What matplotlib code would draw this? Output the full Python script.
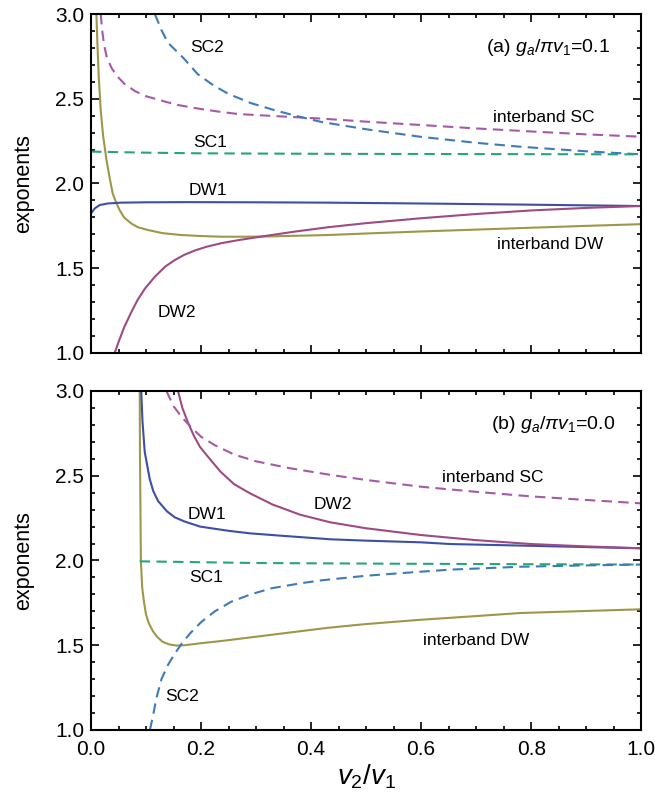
import matplotlib
matplotlib.use("Agg")
import matplotlib.pyplot as plt
from matplotlib.ticker import MultipleLocator

plt.rcParams['font.family'] = ['Liberation Sans', 'DejaVu Sans']
plt.rcParams['mathtext.fontset'] = 'custom'
plt.rcParams['mathtext.it'] = 'Liberation Sans:italic'
plt.rcParams['mathtext.rm'] = 'Liberation Sans'

# ---------------- panel (a) data: g_a/pi v1 = 0.1 ----------------
a_idw_x = [0.0097, 0.0115, 0.014, 0.0176, 0.022, 0.028, 0.034, 0.0394, 0.046, 0.052, 0.06, 0.073, 0.085, 0.104, 0.13, 0.164, 0.2, 0.237, 0.28, 0.328, 0.431, 0.5, 0.6, 0.7, 0.8, 0.9, 1.0]
a_idw_y = [3.0, 2.83, 2.63, 2.43, 2.28, 2.14, 2.03, 1.94, 1.885, 1.843, 1.80, 1.764, 1.742, 1.725, 1.707, 1.696, 1.69, 1.686, 1.686, 1.688, 1.696, 1.705, 1.717, 1.728, 1.739, 1.75, 1.76]

a_dw1_x = [0.0, 0.0067, 0.0158, 0.03, 0.055, 0.1, 0.176, 0.3, 0.431, 0.6, 0.8, 1.0]
a_dw1_y = [1.824, 1.853, 1.873, 1.882, 1.887, 1.889, 1.89, 1.889, 1.887, 1.882, 1.875, 1.867]

a_dw2_x = [0.043, 0.05, 0.06, 0.073, 0.085, 0.098, 0.116, 0.135, 0.152, 0.17, 0.189, 0.21, 0.237, 0.27, 0.316, 0.37, 0.431, 0.5, 0.6, 0.7, 0.8, 0.9, 1.0]
a_dw2_y = [1.0, 1.065, 1.15, 1.24, 1.315, 1.38, 1.45, 1.51, 1.548, 1.58, 1.605, 1.627, 1.648, 1.667, 1.69, 1.716, 1.742, 1.766, 1.795, 1.82, 1.841, 1.856, 1.867]

a_isc_x = [0.0176, 0.02, 0.0235, 0.029, 0.0376, 0.047, 0.06, 0.08, 0.1, 0.138, 0.16, 0.189, 0.23, 0.267, 0.35, 0.419, 0.5, 0.6, 0.7, 0.8, 0.9, 1.0]
a_isc_y = [3.0, 2.91, 2.82, 2.74, 2.68, 2.635, 2.59, 2.545, 2.515, 2.48, 2.462, 2.445, 2.425, 2.41, 2.395, 2.383, 2.365, 2.345, 2.325, 2.307, 2.29, 2.276]

a_sc2_x = [0.116, 0.128, 0.14, 0.168, 0.194, 0.222, 0.249, 0.29, 0.334, 0.375, 0.419, 0.5, 0.598, 0.7, 0.78, 0.9, 1.0]
a_sc2_y = [3.0, 2.905, 2.83, 2.74, 2.645, 2.58, 2.53, 2.475, 2.432, 2.397, 2.363, 2.32, 2.276, 2.24, 2.217, 2.19, 2.172]

a_sc1_x = [0.0, 0.1, 0.2, 0.43, 1.0]
a_sc1_y = [2.188, 2.182, 2.178, 2.175, 2.172]

# ---------------- panel (b) data: g_a/pi v1 = 0.0 ----------------
b_idw_x = [0.0885, 0.089, 0.0898, 0.0906, 0.093, 0.096, 0.1, 0.105, 0.112, 0.12, 0.13, 0.142, 0.155, 0.17, 0.2, 0.237, 0.334, 0.431, 0.5, 0.598, 0.7, 0.78, 0.9, 1.0]
b_idw_y = [3.0, 2.6, 2.3, 1.995, 1.84, 1.76, 1.68, 1.63, 1.585, 1.55, 1.52, 1.505, 1.498, 1.50, 1.512, 1.525, 1.564, 1.603, 1.625, 1.65, 1.672, 1.69, 1.702, 1.712]

b_dw1_x = [0.0912, 0.0935, 0.0976, 0.101, 0.1067, 0.113, 0.122, 0.138, 0.152, 0.17, 0.198, 0.25, 0.289, 0.35, 0.435, 0.5, 0.6, 0.653, 0.78, 0.9, 1.0]
b_dw1_y = [3.0, 2.82, 2.64, 2.58, 2.48, 2.41, 2.35, 2.29, 2.255, 2.23, 2.20, 2.175, 2.16, 2.145, 2.125, 2.117, 2.107, 2.097, 2.088, 2.079, 2.072]

b_dw2_x = [0.158, 0.166, 0.176, 0.187, 0.198, 0.213, 0.235, 0.26, 0.289, 0.33, 0.38, 0.435, 0.5, 0.6, 0.7, 0.8, 0.9, 1.0]
b_dw2_y = [3.0, 2.90, 2.815, 2.735, 2.67, 2.61, 2.525, 2.45, 2.396, 2.33, 2.27, 2.225, 2.19, 2.15, 2.12, 2.097, 2.083, 2.072]

b_isc_x = [0.137, 0.15, 0.165, 0.182, 0.2, 0.225, 0.26, 0.3, 0.36, 0.435, 0.5, 0.6, 0.7, 0.8, 0.9, 1.0]
b_isc_y = [3.0, 2.91, 2.845, 2.785, 2.73, 2.68, 2.625, 2.585, 2.545, 2.505, 2.475, 2.435, 2.405, 2.378, 2.357, 2.337]

b_sc1_x = [0.0885, 0.3, 0.55, 0.8, 1.0]
b_sc1_y = [1.995, 1.985, 1.981, 1.978, 1.976]

b_sc2_x = [0.107, 0.113, 0.119, 0.128, 0.14, 0.152, 0.165, 0.18, 0.2, 0.225, 0.255, 0.29, 0.328, 0.38, 0.419, 0.5, 0.6, 0.653, 0.78, 0.9, 1.0]
b_sc2_y = [1.0, 1.09, 1.19, 1.30, 1.385, 1.45, 1.51, 1.57, 1.636, 1.70, 1.757, 1.80, 1.836, 1.865, 1.883, 1.91, 1.934, 1.946, 1.963, 1.971, 1.976]

c_olive = '#9f9648'
c_blue = '#3b4fa8'
c_purple = '#9e4a84'
c_purple_d = '#a559a8'
c_blue_d = '#3f7ab8'
c_green_d = '#27a57a'

fig = plt.figure(figsize=(6.55, 8.02), dpi=100)
ax1 = fig.add_axes([0.139, 0.5599, 0.840, 0.4226])
ax2 = fig.add_axes([0.139, 0.0898, 0.840, 0.4227])

lw = 1.5
dash = (0, (5, 3))

def style(ax):
    ax.set_xlim(0, 1)
    ax.set_ylim(1.0, 3.0)
    ax.xaxis.set_major_locator(MultipleLocator(0.2))
    ax.xaxis.set_minor_locator(MultipleLocator(0.05))
    ax.yaxis.set_major_locator(MultipleLocator(0.5))
    ax.yaxis.set_minor_locator(MultipleLocator(0.1))
    ax.tick_params(which='both', direction='in', top=True, right=True, labelsize=15, width=1.2)
    ax.tick_params(which='major', length=6)
    ax.tick_params(which='minor', length=3)
    ax.tick_params(axis='x', pad=7)
    ax.tick_params(axis='y', pad=5)
    for s in ax.spines.values():
        s.set_linewidth(1.5)
    ax.set_ylabel('exponents', fontsize=15.5, labelpad=15)

# panel (a)
ax1.plot(a_idw_x, a_idw_y, color=c_olive, lw=lw)
ax1.plot(a_dw1_x, a_dw1_y, color=c_blue, lw=lw)
ax1.plot(a_dw2_x, a_dw2_y, color=c_purple, lw=lw)
ax1.plot(a_isc_x, a_isc_y, color=c_purple_d, lw=lw, linestyle=dash)
ax1.plot(a_sc2_x, a_sc2_y, color=c_blue_d, lw=lw, linestyle=dash)
ax1.plot(a_sc1_x, a_sc1_y, color=c_green_d, lw=lw, linestyle=dash)
style(ax1)
ax1.tick_params(labelbottom=False)
fs = 12.5
ax1.text(0.21, 2.80, 'SC2', fontsize=fs, ha='center', va='center')
ax1.text(0.216, 2.24, 'SC1', fontsize=fs, ha='center', va='center')
ax1.text(0.213, 1.96, 'DW1', fontsize=fs, ha='center', va='center')
ax1.text(0.156, 1.24, 'DW2', fontsize=fs, ha='center', va='center')
ax1.text(0.822, 2.39, 'interband SC', fontsize=fs, ha='center', va='center')
ax1.text(0.835, 1.64, 'interband DW', fontsize=fs, ha='center', va='center')
ax1.text(0.83, 2.80, r'(a) $g_a/\pi v_1$=0.1', fontsize=14, ha='center', va='center')

# panel (b)
ax2.plot(b_idw_x, b_idw_y, color=c_olive, lw=lw)
ax2.plot(b_dw1_x, b_dw1_y, color=c_blue, lw=lw)
ax2.plot(b_dw2_x, b_dw2_y, color=c_purple, lw=lw)
ax2.plot(b_isc_x, b_isc_y, color=c_purple_d, lw=lw, linestyle=dash)
ax2.plot(b_sc1_x, b_sc1_y, color=c_green_d, lw=lw, linestyle=dash)
ax2.plot(b_sc2_x, b_sc2_y, color=c_blue_d, lw=lw, linestyle=dash)
style(ax2)
ax2.text(0.21, 2.27, 'DW1', fontsize=fs, ha='center', va='center')
ax2.text(0.21, 1.90, 'SC1', fontsize=fs, ha='center', va='center')
ax2.text(0.165, 1.20, 'SC2', fontsize=fs, ha='center', va='center')
ax2.text(0.44, 2.33, 'DW2', fontsize=fs, ha='center', va='center')
ax2.text(0.731, 2.49, 'interband SC', fontsize=fs, ha='center', va='center')
ax2.text(0.70, 1.53, 'interband DW', fontsize=fs, ha='center', va='center')
ax2.text(0.84, 2.80, r'(b) $g_a/\pi v_1$=0.0', fontsize=14, ha='center', va='center')
ax2.set_xlabel(r'$v_2/v_1$', fontsize=20, labelpad=3)

fig.savefig('out.png', dpi=100)
